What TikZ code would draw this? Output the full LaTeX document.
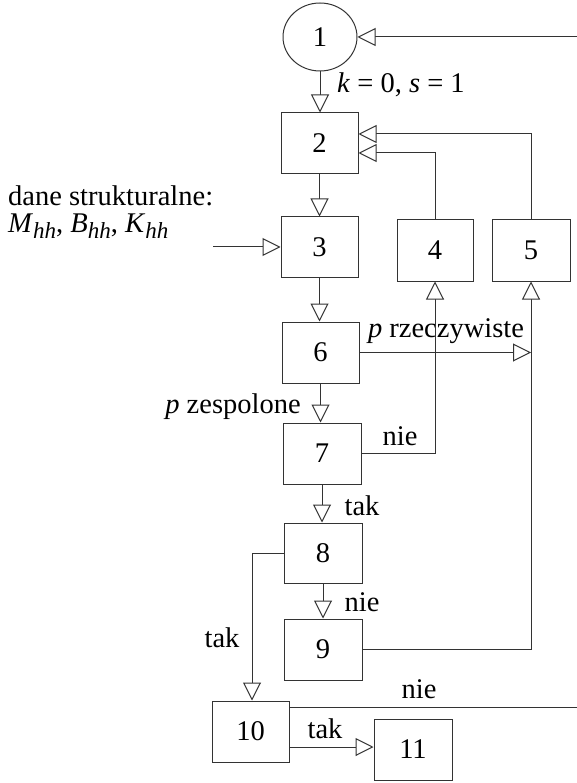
\documentclass[tikz,border=0pt]{standalone}
\usepackage{fontspec}
\setmainfont{Liberation Serif}
\usetikzlibrary{arrows.meta,shapes.geometric}
\newcommand{\mysub}[1]{\raisebox{-6pt}{\fontsize{23}{23}\selectfont\itshape #1}}
\begin{document}
\begin{tikzpicture}[x=1pt,y=-1pt,
  every node/.style={font=\fontsize{28.5}{31}\selectfont, inner sep=0pt},
  blk/.style={draw=black!80, line width=1pt, minimum width=77pt, minimum height=61pt},
  con/.style={draw=black!80, line width=1pt},
  arr/.style={con, -{Triangle[open, length=18pt, width=18pt, fill=white]}},
  lbl/.style={anchor=base}]
\useasboundingbox (0,0) rectangle (577,783);
% nodes
\node[ellipse, draw=black!80, line width=1pt, minimum width=74pt, minimum height=68pt] (n1) at (320,37) {1};
\node[blk] (n2) at (319.5,143.5) {2};
\node[blk, minimum height=60pt] (n3) at (319.5,247) {3};
\node[blk, minimum width=76pt] (n4) at (435,250.5) {4};
\node[blk, minimum width=78pt] (n5) at (531,250.5) {5};
\node[blk] (n6) at (320.5,352.5) {6};
\node[blk, minimum width=78pt] (n7) at (322,453.5) {7};
\node[blk, minimum width=78pt, minimum height=60pt] (n8) at (323,553) {8};
\node[blk, minimum width=78pt] (n9) at (323,649.5) {9};
\node[blk] (n10) at (250.5,731.5) {10};
\node[blk, minimum width=78pt] (n11) at (413,749.5) {11};
\coordinate (in1) at (577,37);
\coordinate (in3) at (213,247);
\coordinate (out10) at (577,707);
\coordinate (s10) at ([yshift=-15.5pt]n10.east);
% labels
\node[lbl, anchor=base west] (l12) at (337,93) {\textit{k} = 0, \textit{s} = 1};
\node[anchor=base west, align=left] (ldane) at (8,233) {dane strukturalne:\\[-4pt]\textit{M}\mysub{hh}, \textit{B}\mysub{hh}, \textit{K}\mysub{hh}};
\node[lbl] (lrz) at (446,337) {\textit{p} rzeczywiste};
\node[lbl] (lze) at (233,413) {\textit{p} zespolone};
\node[lbl] (lnie7) at (400,445) {nie};
\node[lbl] (ltak7) at (362,515) {tak};
\node[lbl] (lnie8) at (362,611) {nie};
\node[lbl] (ltak8) at (222,647) {tak};
\node[lbl] (lnie10) at (419,698) {nie};
\node[lbl] (ltak10) at (325,738) {tak};
% connectors
\draw[arr] (in1) -- (n1.east);
\draw[arr] (n1.south) -- (n1.south |- n2.north);
\draw[arr] (n2.south) -- (n2.south |- n3.north);
\draw[arr] (n3.south) -- (n3.south |- n6.north);
\draw[arr] (n6.south) -- (n6.south |- n7.north);
\draw[arr] (n7.south) -- (n7.south |- n8.north);
\draw[arr] (n8.south) -- (n8.south |- n9.north);
\draw[arr] (in3) -- (n3.west);
\draw[arr] (n4.north) |- ([yshift=-9.5pt]n2.east);
\draw[arr] (n5.north) |- ([yshift=9.5pt]n2.east);
\draw[arr] (n6.east) -- (n5.south |- n6.east);
\draw[arr] (n7.east) -| (n4.south);
\draw[arr] (n9.east) -| (n5.south);
\draw[arr] (n8.west) -| ([xshift=1.5pt]n10.north);
\draw[con] ([yshift=24.5pt]n10.east) -- (out10);
\draw[arr] (s10) -- (n11.west |- s10);
\end{tikzpicture}
\end{document}
